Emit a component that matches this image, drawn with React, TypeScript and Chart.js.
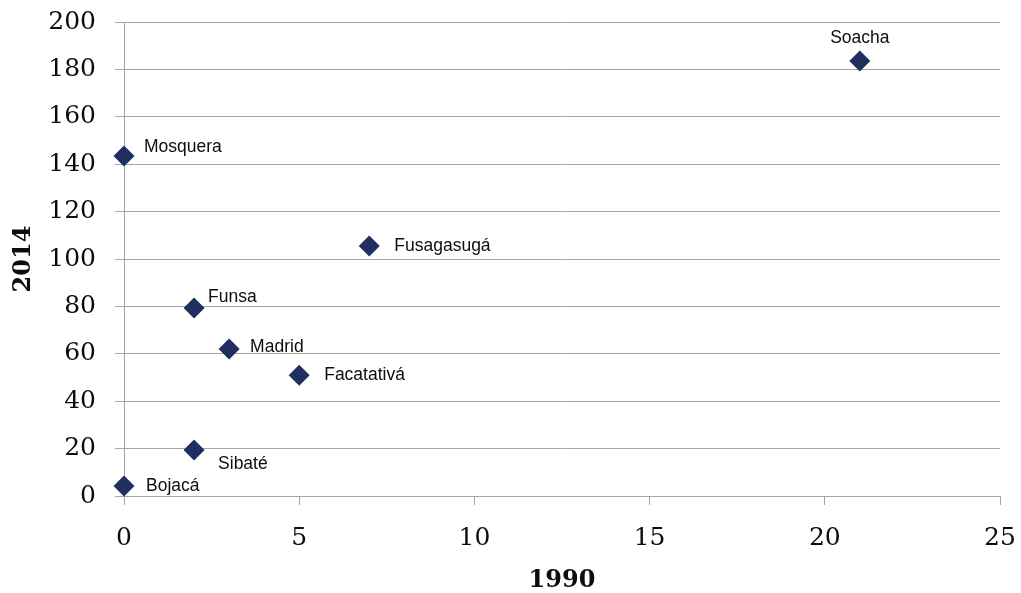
import React, { useEffect, useRef } from "react";
import { Chart, registerables } from "chart.js";

Chart.register(...registerables);

const towns = ["Soacha", "Mosquera", "Fusagasugá", "Funsa", "Madrid", "Facatativá", "Sibaté", "Bojacá"];
const values1990 = [21, 0, 7, 2, 3, 5, 2, 0];
const values2014 = [183.5, 143.5, 105.5, 79.3, 62, 51, 19.4, 4.2];
const xTicks = [0, 5, 10, 15, 20, 25];
const yTicks = [0, 20, 40, 60, 80, 100, 120, 140, 160, 180, 200];

// label placement styles (pixel offsets from the marker)
const labelPlacement: Record<string, [number, number, CanvasTextAlign]> = {
  Soacha: [0, -23, "center"],
  Mosquera: [20, -9, "left"],
  "Fusagasugá": [25, 0, "left"],
  Funsa: [14, -11, "left"],
  Madrid: [21, -2, "left"],
  "Facatativá": [25, 0, "left"],
  "Sibaté": [24, 14, "left"],
  "Bojacá": [22, 0, "left"],
};

const gridColor = "#a6a6a6";
const textColor = "#0d0d0d";
const markerColor = "#1f2f5f";

const labelPlugin = {
  id: "pointLabels",
  afterDatasetsDraw(chart: any) {
    const ctx = chart.ctx;
    const meta = chart.getDatasetMeta(0);
    ctx.save();
    ctx.font = '17.5px "Liberation Sans", Arial, sans-serif';
    ctx.fillStyle = textColor;
    ctx.textBaseline = "middle";
    meta.data.forEach((el: any, i: number) => {
      const name = towns[i];
      const [dx, dy, align] = labelPlacement[name];
      ctx.textAlign = align;
      ctx.fillText(name, el.x + dx, el.y + dy);
    });
    ctx.restore();
  },
};

const zeroPad = (s: any) => {
  s.paddingTop = 0;
  s.paddingBottom = 0;
  s.paddingLeft = 0;
  s.paddingRight = 0;
};

export default function App() {
  const ref = useRef<HTMLCanvasElement | null>(null);
  useEffect(() => {
    document.body.style.margin = "0";
    if (!ref.current) return;
    const chart = new Chart(ref.current, {
      type: "scatter",
      data: {
        datasets: [
          {
            data: towns.map((_, i) => ({ x: values1990[i], y: values2014[i] })),
            pointStyle: "rectRot",
            pointRadius: 10.5,
            pointHoverRadius: 10.5,
            backgroundColor: markerColor,
            borderColor: markerColor,
            borderWidth: 0,
            clip: false,
          },
        ],
      },
      options: {
        responsive: false,
        animation: false,
        layout: { padding: { left: 0, right: 21, top: 22, bottom: 0 } },
        plugins: { legend: { display: false }, tooltip: { enabled: false } },
        scales: {
          x: {
            type: "linear",
            min: 0,
            max: 25,
            afterBuildTicks: (s: any) => {
              s.ticks = xTicks.map((v) => ({ value: v }));
            },
            afterFit: (s: any) => {
              s.height = 97;
              zeroPad(s);
            },
            ticks: {
              color: textColor,
              font: { family: '"DejaVu Serif", serif', size: 25 },
              padding: 18,
              maxRotation: 0,
            },
            grid: { display: true, drawOnChartArea: false, drawTicks: true, tickLength: 9, color: gridColor, lineWidth: 1 },
            border: { display: true, color: gridColor, width: 1 },
            title: {
              display: true,
              text: "1990",
              color: textColor,
              font: { family: '"DejaVu Serif", serif', size: 24, weight: "bold" },
              padding: { top: 0, bottom: -2 },
            },
          },
          y: {
            type: "linear",
            min: 0,
            max: 200,
            afterBuildTicks: (s: any) => {
              s.ticks = yTicks.map((v) => ({ value: v }));
            },
            afterFit: (s: any) => {
              s.width = 124;
              zeroPad(s);
            },
            ticks: {
              color: textColor,
              font: { family: '"DejaVu Serif", serif', size: 25 },
              padding: 19,
            },
            grid: { display: true, drawTicks: true, tickLength: 9, color: gridColor, lineWidth: 1 },
            border: { display: true, color: gridColor, width: 1 },
            title: {
              display: true,
              text: "2014",
              color: textColor,
              font: { family: '"DejaVu Serif", serif', size: 24, weight: "bold" },
              padding: { top: 9, bottom: 0 },
            },
          },
        },
      },
      plugins: [labelPlugin],
    });
    return () => chart.destroy();
  }, []);
  return (
    <div style={{ width: 1021, height: 593, background: "#fff" }}>
      <canvas ref={ref} width={1021} height={593} style={{ display: "block" }} />
    </div>
  );
}
